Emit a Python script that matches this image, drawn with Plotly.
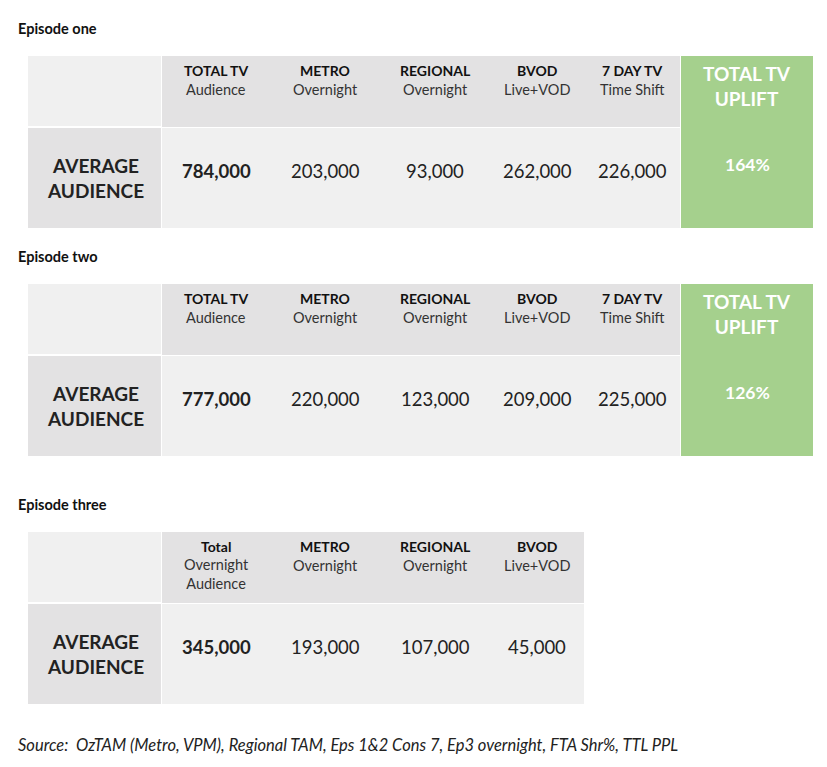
import plotly.graph_objects as go

# episode data
episodes = ["Episode one", "Episode two", "Episode three"]
col_titles = ["TOTAL TV", "METRO", "REGIONAL", "BVOD", "7 DAY TV"]
col_subs = ["Audience", "Overnight", "Overnight", "Live+VOD", "Time Shift"]
ep3_titles = ["Total", "METRO", "REGIONAL", "BVOD"]
ep3_subs = ["Overnight<br>Audience", "Overnight", "Overnight", "Live+VOD"]
ep1_values = ["784,000", "203,000", "93,000", "262,000", "226,000"]
ep2_values = ["777,000", "220,000", "123,000", "209,000", "225,000"]
ep3_values = ["345,000", "193,000", "107,000", "45,000"]
uplift = ["164%", "126%"]
source = "Source:  OzTAM (Metro, VPM), Regional TAM, Eps 1&2 Cons 7, Ep3 overnight, FTA Shr%, TTL PPL"

W, H = 827, 767
OFF = 8  # page margin offset
LIGHT, MID, GREEN = "#f0f0f0", "#e3e2e3", "#a5d08d"
col_x = [216, 325, 435, 537, 632]
FONT = "Lato"

fig = go.Figure()
shapes, ann = [], []

def rect(x0, y0, x1, y1, c):
    shapes.append(dict(type="rect", xref="x", yref="y", x0=x0, x1=x1, y0=y0, y1=y1,
                       fillcolor=c, line=dict(width=0), layer="below"))

def text(x, y, t, size, color="#111", bold=False, italic=False, xanchor="center"):
    if bold:
        t = "<b>" + t + "</b>"
    if italic:
        t = "<i>" + t + "</i>"
    ann.append(dict(x=x, y=y, xref="x", yref="y", text=t, showarrow=False, xanchor=xanchor,
                    yanchor="middle", font=dict(family=FONT, size=size, color=color)))

tables = [
    (28, 56, ep1_values, col_titles, col_subs, uplift[0], 680),
    (256, 284, ep2_values, col_titles, col_subs, uplift[1], 680),
    (504, 532, ep3_values, ep3_titles, ep3_subs, None, 584),
]
for i, (ly, top, vals, titles, subs, upl, right) in enumerate(tables):
    text(16, ly, episodes[i], 14.5, bold=True, xanchor="left")
    rect(28, top, 161, top + 70, LIGHT)
    rect(162, top, right, top + 71, MID)
    rect(28, top + 72, 161, top + 172, MID)
    rect(162, top + 72, right, top + 172, LIGHT)
    text(95, top + 122, "AVERAGE<br>AUDIENCE", 19, color="#222", bold=True)
    for j, v in enumerate(vals):
        x = col_x[j]
        nsub = subs[j].count("<br>")
        text(x, top + 14, titles[j], 14, bold=True)
        text(x, top + 33 + nsub * 9, subs[j], 14.5, color="#333")
        text(x, top + 115, v, 18.5, color="#222", bold=(j == 0))
    if upl:
        rect(681, top, 813, top + 172, GREEN)
        text(747, top + 30, "TOTAL TV<br>UPLIFT", 19, color="white", bold=True)
        text(747, top + 108, upl, 17.5, color="white", bold=True)

text(16, 745, source, 16.5, color="#222", italic=True, xanchor="left")

fig.add_trace(go.Scatter(x=[0, W], y=[0, H], mode="markers", marker=dict(opacity=0),
                         hoverinfo="skip", showlegend=False))
fig.update_layout(width=W, height=H, margin=dict(l=0, r=0, t=0, b=0),
                  paper_bgcolor="white", plot_bgcolor="white",
                  shapes=shapes, annotations=ann,
                  xaxis=dict(range=[OFF, W + OFF], visible=False, fixedrange=True),
                  yaxis=dict(range=[H + OFF, OFF], visible=False, fixedrange=True))
fig.write_html("out.html")
